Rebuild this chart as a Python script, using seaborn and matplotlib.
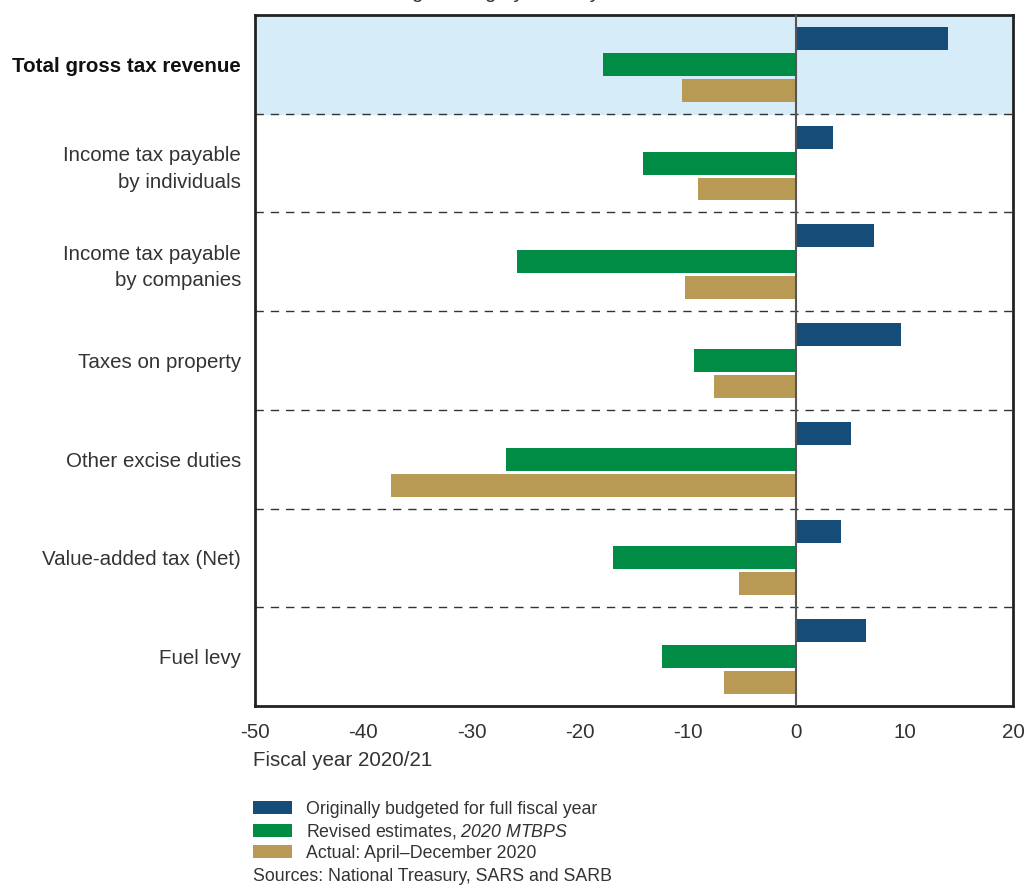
import pandas as pd
import numpy as np
import seaborn as sns
import matplotlib.pyplot as plt
from matplotlib.patches import Patch

# Data (percentage change)
categories = ['Total gross tax revenue', 'Income tax payable\nby individuals',
              'Income tax payable\nby companies', 'Taxes on property',
              'Other excise duties', 'Value-added tax (Net)', 'Fuel levy']
budgeted = [14.0, 3.4, 7.2, 9.7, 5.0, 4.1, 6.4]
revised = [-17.9, -14.2, -25.8, -9.5, -26.8, -16.9, -12.4]
actual = [-10.6, -9.1, -10.3, -7.6, -37.4, -5.3, -6.7]
series_names = ['Originally budgeted for full fiscal year',
                'Revised estimates, 2020 MTBPS',
                'Actual: April\u2013December 2020']
colors = ['#164C78', '#008C45', '#B99A54']
xticks = [-50, -40, -30, -20, -10, 0, 10, 20]

df = pd.DataFrame({
    'category': categories * 3,
    'value': budgeted + revised + actual,
    'series': [series_names[0]] * 7 + [series_names[1]] * 7 + [series_names[2]] * 7,
})

sns.set_theme(style='white')
plt.rcParams['font.family'] = ['Liberation Sans', 'DejaVu Sans']
plt.rcParams['mathtext.fontset'] = 'custom'
plt.rcParams['mathtext.rm'] = 'Liberation Sans:italic'
plt.rcParams['mathtext.it'] = 'Liberation Sans:italic'
text_col = '#333333'
fs = 14.8

fig = plt.figure(figsize=(10.27, 8.88), dpi=100)
ax = fig.add_axes([0.2483, 0.2050, 0.7381, 0.7781])

ax.axhspan(-0.5, 0.5, color='#D6ECF9', zorder=0)
sns.barplot(data=df, y='category', x='value', hue='series', orient='h',
            palette=colors, saturation=1, width=0.79, gap=0.12, order=categories,
            hue_order=series_names, legend=False, linewidth=0, ax=ax, zorder=2)

for i in range(1, len(categories)):
    ax.axhline(i - 0.5, color='#333333', linestyle=(0, (6, 5)), linewidth=1, zorder=1)
ax.axvline(0, color='#555555', linewidth=1.5, zorder=3)

ax.set_xlim(-50, 20)
ax.set_ylim(len(categories) - 0.5, -0.5)
ax.set_xticks(xticks)
ax.set_xticklabels([str(t) for t in xticks], fontsize=fs, color=text_col)
ax.tick_params(axis='x', direction='in', length=8, width=1.5, color='#222222', pad=12)
ax.tick_params(axis='y', length=0, pad=10)
for lbl in ax.get_yticklabels():
    lbl.set_fontsize(fs)
    lbl.set_color(text_col)
    lbl.set_linespacing(1.5)
ax.get_yticklabels()[0].set_fontweight('bold')
ax.get_yticklabels()[0].set_color('#111111')
ax.set_xlabel('')
ax.set_ylabel('')
for s in ax.spines.values():
    s.set_visible(True)
    s.set_color('#222222')
    s.set_linewidth(2)

fig.text(253 / 1027, 1 - 760 / 888, 'Fiscal year 2020/21', fontsize=fs,
         color=text_col, va='center', ha='left')
# subtitle sits mostly above the crop, as in the original
fig.text(330 / 1027, 1.0 + 1.5 / 888, 'Percentage change year-on-year', fontsize=fs,
         color=text_col, va='baseline', ha='left')

handles = [Patch(facecolor=c, edgecolor='none') for c in colors]
leg_labels = [series_names[0], 'Revised estimates, $2020\\ MTBPS$', series_names[2]]
fig.legend(handles, leg_labels, loc='upper left', bbox_to_anchor=(246 / 1027, 1 - 794 / 888),
           frameon=False, fontsize=12.8, handlelength=2.2, handleheight=0.75,
           labelspacing=0.22, handletextpad=0.75, labelcolor=text_col, borderaxespad=0)

fig.text(253 / 1027, 1 - 876 / 888, 'Sources: National Treasury, SARS and SARB',
         fontsize=12.8, color=text_col, va='center', ha='left')

fig.savefig('out.png', dpi=100)
